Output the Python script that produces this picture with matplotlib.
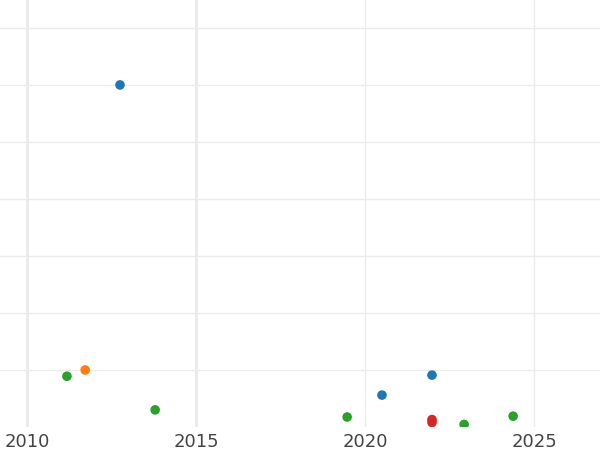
import matplotlib
matplotlib.use("Agg")
import matplotlib.pyplot as plt

# data (year, value, colour group)
years = [2011.18, 2011.72, 2012.75, 2013.79, 2019.47, 2020.5, 2021.98, 2021.98, 2021.98, 2022.93, 2024.38]
values = [8.9, 10.0, 60.0, 3.0, 1.75, 5.6, 9.1, 1.3, 0.8, 0.45, 1.9]
groups = ["green", "orange", "blue", "green", "green", "blue", "blue", "red", "red", "green", "green"]
palette = {"blue": "#1f77b4", "orange": "#ff7f0e", "green": "#2ca02c", "red": "#d62728"}
xticks = [2010, 2015, 2020, 2025]

fig = plt.figure(figsize=(6, 4.5), dpi=100)
ax = fig.add_axes([0, 23 / 450, 1, 427 / 450])
ax.set_xlim(2009.2, 2026.95)
ax.set_ylim(0, 74.9)

for y in range(10, 80, 10):
    ax.axhline(y, color="#ebebeb", lw=1, zorder=0)
for x in xticks:
    ax.axvline(x, color="#ebebeb", lw=2.2 if x < 2020 else 1, zorder=0)

ax.scatter(years, values, c=[palette[g] for g in groups], s=48, linewidths=0, zorder=3)

ax.set_xticks(xticks)
ax.set_xticklabels([str(t) for t in xticks])
ax.set_yticks([])
ax.tick_params(axis="x", length=0, pad=4, labelsize=13, labelcolor="#444444")
for s in ax.spines.values():
    s.set_visible(False)

fig.savefig("out.png", dpi=100)
